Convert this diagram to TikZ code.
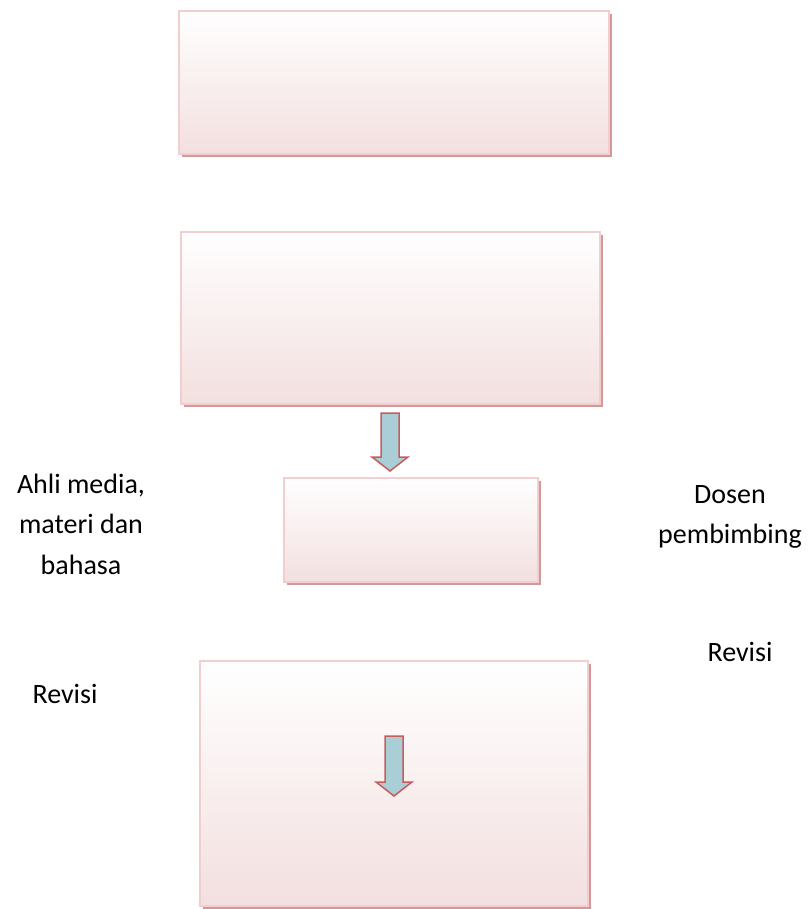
\documentclass[tikz,border=0pt]{standalone}
\usepackage{fontspec}
\setmainfont{Carlito}
\usetikzlibrary{shadows}

\definecolor{boxline}{RGB}{242,206,206}
\definecolor{boxfill}{RGB}{243,223,223}
\definecolor{boxshade}{RGB}{212,152,152}
\definecolor{arrowfill}{RGB}{170,206,214}
\definecolor{arrowline}{RGB}{200,92,92}

\begin{document}
\begin{tikzpicture}[x=1pt,y=-1pt,
	stagebox/.style={draw=boxline,line width=2.5pt,top color=white,bottom color=boxfill,
		drop shadow={shadow xshift=3pt,shadow yshift=-3pt,fill=boxshade,opacity=1},
		inner sep=0pt,outer sep=0pt},
	blockarrow/.style={draw=arrowline,line width=1.5pt,fill=arrowfill,line join=miter},
	sidetext/.style={font=\fontsize{28}{40.5}\selectfont,align=center,inner sep=0pt}]
	\useasboundingbox (0,0) rectangle (807,909);

	\node[stagebox,minimum width=430pt,minimum height=143pt] (B1) at (394,82.5) {};
	\node[stagebox,minimum width=419pt,minimum height=172pt] (B2) at (390.5,318) {};
	\node[stagebox,minimum width=254pt,minimum height=104pt] (B3) at (411,530) {};
	\node[stagebox,minimum width=388pt,minimum height=245pt] (B4) at (394,783.5) {};

	\draw[blockarrow] (381,413) -- (399,413) -- (399,457) -- (408,457) -- (390,471)
		-- (372,457) -- (381,457) -- cycle;
	\draw[blockarrow] (385,736) -- (403,736) -- (403,782) -- (412,782) -- (394,796)
		-- (376,782) -- (385,782) -- cycle;

	\node[sidetext,anchor=north] (ahli) at (81,473.5) {Ahli media,\\materi dan\\bahasa};
	\node[sidetext,anchor=north] (dosen) at (730,485) {Dosen\\pembimbing};
	\node[sidetext,anchor=base] (revL) at (65,703) {Revisi};
	\node[sidetext,anchor=base] (revR) at (740,661) {Revisi};
\end{tikzpicture}
\end{document}
